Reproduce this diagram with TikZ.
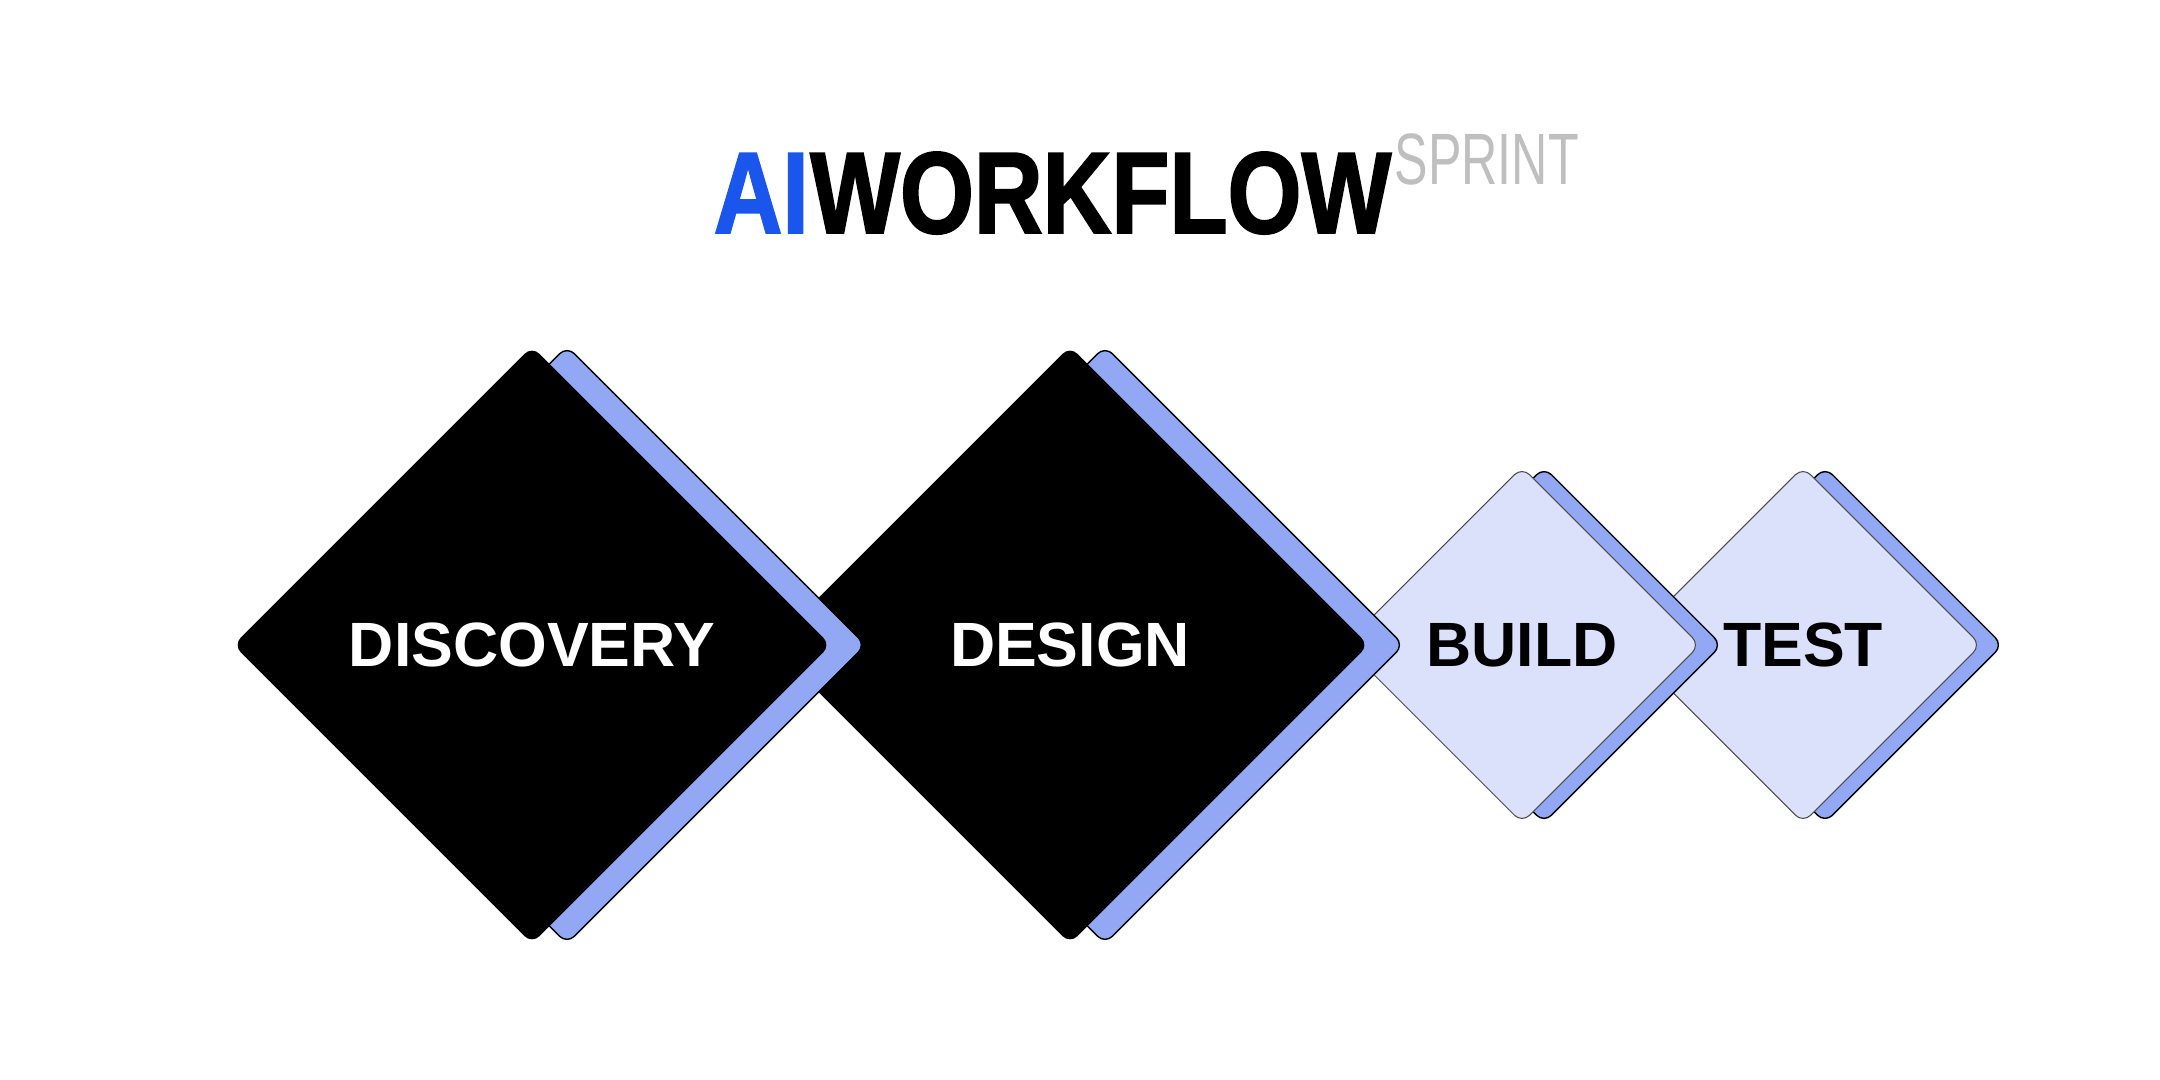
\documentclass[tikz,border=0pt]{standalone}
\usepackage{fontspec}
\setmainfont{Liberation Sans}
\newfontfamily\titlefont[FakeStretch=0.82, FakeBold=1.6]{Liberation Sans}
\newfontfamily\sprintfont[FakeStretch=0.69]{Liberation Sans}
\usetikzlibrary{shapes.geometric}

\definecolor{aiblue}{HTML}{1A56EB}
\definecolor{shadowblue}{HTML}{93A8F4}
\definecolor{paleblue}{HTML}{DCE1FB}
\definecolor{sprintgray}{HTML}{BFBFBF}

\begin{document}
\begin{tikzpicture}[
    phase/.style={diamond, aspect=1, inner sep=0pt, rounded corners=3pt, align=center, font=\bfseries\fontsize{17.8}{20}\selectfont},
    bigphase/.style={phase, minimum width=5.98cm, minimum height=5.98cm},
    smallphase/.style={phase, minimum width=3.56cm, minimum height=3.56cm},
    backing/.style={fill=shadowblue, draw=black, line width=0.4pt},
    dark/.style={fill=black, text=white},
    light/.style={fill=paleblue, draw=black!70, line width=0.3pt, text=black},
    title/.style={anchor=base west, inner sep=0pt, font=\titlefont\bfseries\fontsize{33}{36}\selectfont}
  ]
    \fill[white] (0,0) rectangle (21.6,10.8);
    \useasboundingbox (0,0) rectangle (21.6,10.8);

    % heading
    \node[title, text=aiblue] (ai) at (7.13,8.47) {AI};
    \node[title] (workflow) at (ai.base east) {WORKFLOW};
    \node[anchor=base west, inner sep=0pt, text=sprintgray, font=\sprintfont\fontsize{20.7}{24}\selectfont] (sprint) at (13.94,8.95) {SPRINT};

    % phases, drawn back to front
    \node[smallphase, backing] (test-back) at (18.25,4.35) {};
    \node[smallphase, light] (test) at (18.03,4.35) {TEST};
    \node[smallphase, backing] (build-back) at (15.44,4.35) {};
    \node[smallphase, light] (build) at (15.22,4.35) {BUILD};
    \node[bigphase, backing] (design-back) at (11.05,4.35) {};
    \node[bigphase, dark] (design) at (10.70,4.35) {DESIGN};
    \node[bigphase, backing] (discovery-back) at (5.67,4.35) {};
    \node[bigphase, dark] (discovery) at (5.32,4.35) {DISCOVERY};
  \end{tikzpicture}
\end{document}
